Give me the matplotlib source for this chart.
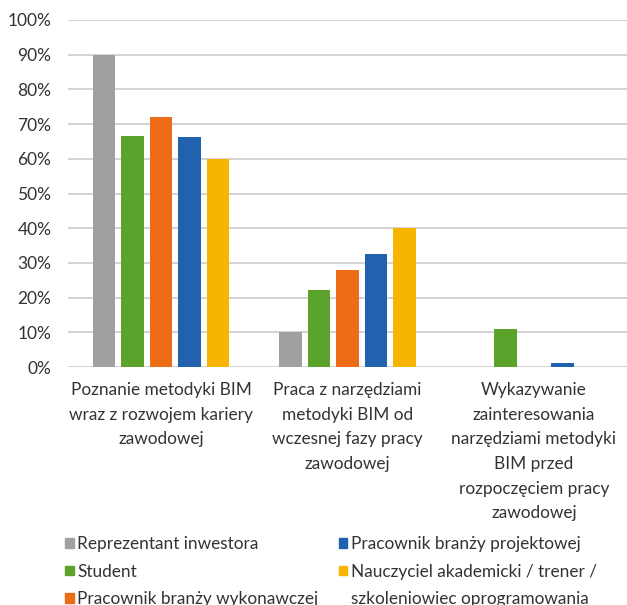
import numpy as np
import matplotlib
matplotlib.use('Agg')
import matplotlib.pyplot as plt
from matplotlib.patches import Patch

plt.rcParams['font.family'] = ['Lato', 'DejaVu Sans']

categories = [
    'Poznanie metodyki BIM\nwraz z rozwojem kariery\nzawodowej',
    'Praca z narzędziami\nmetodyki BIM od\nwczesnej fazy pracy\nzawodowej',
    'Wykazywanie\nzainteresowania\nnarzędziami metodyki\nBIM przed\nrozpoczęciem pracy\nzawodowej',
]
series_names = [
    'Reprezentant inwestora',
    'Student',
    'Pracownik branży wykonawczej',
    'Pracownik branży projektowej',
    'Nauczyciel akademicki / trener /',
]
extra_line = 'szkoleniowiec oprogramowania'
values = [
    [90.0, 10.0, 0.0],
    [66.7, 22.2, 11.0],
    [72.0, 28.0, 0.0],
    [66.3, 32.6, 1.2],
    [60.0, 40.0, 0.0],
]
colors = ['#a0a0a2', '#5ba32b', '#ec6c17', '#2062ad', '#f8b500']
yticks = [0, 10, 20, 30, 40, 50, 60, 70, 80, 90, 100]

fig = plt.figure(figsize=(6.27, 6.05), dpi=100)
ax = fig.add_axes([68 / 627, 1 - 367 / 605, 559 / 627, 347 / 605])

x = np.arange(len(categories))
pitch = 0.153
width = 0.121
for i, (vals, c) in enumerate(zip(values, colors)):
    ax.bar(x + (i - 2) * pitch, vals, width, color=c, zorder=3)

ax.set_xlim(-0.5, 2.5)
ax.set_ylim(0, 100)
ax.set_yticks(yticks)
ax.set_yticklabels([f'{t}%' for t in yticks])
ax.yaxis.grid(True, color='#d0d0d0', linewidth=1.3, zorder=0)
ax.set_xticks(x)
ax.set_xticklabels(categories, linespacing=1.66, va='top')
ax.tick_params(axis='both', length=0, colors='#333333')
ax.tick_params(axis='y', pad=12, labelsize=12.5)
ax.tick_params(axis='x', pad=11, labelsize=12.4)
for s in ax.spines.values():
    s.set_visible(False)

handles = [Patch(color=c) for c in colors] + [Patch(alpha=0)]
labels = series_names + [extra_line]
leg = fig.legend(handles, labels, ncol=2, loc='upper left',
                 bbox_to_anchor=(49.5 / 627, 1 - 520.5 / 605),
                 frameon=False, fontsize=12.4, handlelength=0.5,
                 handleheight=0.5, handletextpad=0.2, columnspacing=1.2,
                 labelspacing=0.67, labelcolor='#333333')

fig.savefig('out.png', dpi=100)
